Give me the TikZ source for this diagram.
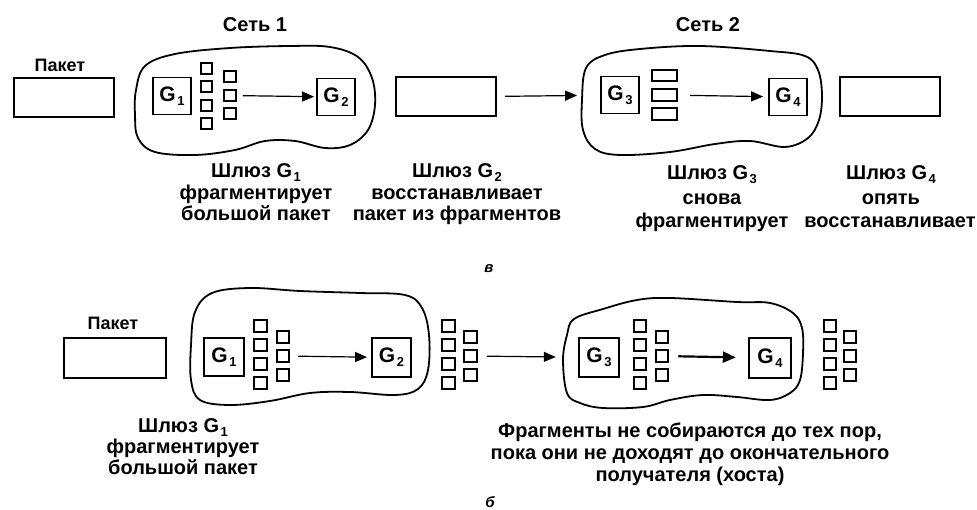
\documentclass[tikz,border=0pt]{standalone}
\usepackage{fontspec}
\setmainfont{Liberation Sans}
\usetikzlibrary{arrows.meta}
\newcommand{\Gsub}[1]{G\kern1.5pt\raisebox{-4pt}{\fontsize{13}{13}\selectfont #1}}
\tikzset{
  pkt/.style={draw, line width=2pt, minimum width=100pt, minimum height=39pt, inner sep=0pt},
  gw/.style={draw, line width=1.8pt, minimum width=38pt, minimum height=37pt, inner sep=0pt,
    font=\fontsize{21}{21}\selectfont\bfseries},
  gwb/.style={gw, line width=2.4pt},
  frag/.style={draw, line width=2pt, minimum width=11.5pt, minimum height=11pt, inner sep=0pt},
  fragb/.style={frag, minimum width=12.5pt, minimum height=12pt},
  wfrag/.style={draw, line width=2pt, minimum width=25pt, minimum height=11.5pt, inner sep=0pt},
  blob/.style={line width=1.8pt},
  lbl/.style={font=\fontsize{20}{22}\selectfont\bfseries, anchor=base, inner sep=0pt},
  arr/.style={-{Triangle[length=12pt,width=10pt]}, line width=1.2pt},
  arrb/.style={-{Triangle[length=13pt,width=11pt]}, line width=2.2pt},
  fig/.style={font=\fontsize{15}{15}\selectfont\bfseries\itshape, anchor=base, inner sep=0pt}
}
\begin{document}
\begin{tikzpicture}[x=1pt,y=-1pt]
\useasboundingbox (0,0) rectangle (977,510);
% ---------------- top (a) ----------------
\draw[blob] plot[smooth cycle, tension=0.6] coordinates {(136,90) (145,66) (175,54) (230,48) (290,46) (330,47) (358,57) (372,78) (375,105) (368,130) (350,145) (325,148) (295,141) (265,141) (235,150) (195,155) (155,152) (138,138) (135,115)};
\draw[blob] plot[smooth cycle, tension=0.6] coordinates {(582,100) (586,68) (605,55) (640,49) (700,46) (770,51) (805,56) (818,70) (822,95) (819,120) (808,138) (785,147) (750,141) (715,144) (670,152) (620,155) (595,149) (583,130)};

\node[lbl] (net1) at (255,32) {Сеть 1};
\node[lbl] (net2) at (708,32) {Сеть 2};
\node[lbl, font=\fontsize{18}{20}\selectfont\bfseries] (pkl1) at (60,72) {Пакет};

\node[pkt] (pa) at (64,98) {};
\node[gw] (ga1) at (172,96) {\Gsub{1}};
\node[frag] (fa1) at (206.5,68.5) {};
\node[frag] (fa2) at (206.5,87) {};
\node[frag] (fa3) at (206.5,105.5) {};
\node[frag] (fa4) at (206.5,124) {};
\node[frag] (fa5) at (230,77) {};
\node[frag] (fa6) at (230,95.5) {};
\node[frag] (fa7) at (230,114) {};
\node[gw] (ga2) at (336,97) {\Gsub{2}};
\node[pkt] (pb) at (446,97) {};
\node[gw] (ga3) at (620,95) {\Gsub{3}};
\node[wfrag] (fw1) at (664.5,75.5) {};
\node[wfrag] (fw2) at (664.5,95) {};
\node[wfrag] (fw3) at (664.5,114) {};
\node[gw] (ga4) at (788,97) {\Gsub{4}};
\node[pkt] (pc) at (890,97) {};

\draw[arr, shorten <=6pt, shorten >=2pt] (fa6) -- (ga2);
\draw[arr, shorten <=8pt, shorten >=23pt] (pb) -- (ga3);
\draw[arr, shorten <=12pt, shorten >=5pt] (fw2) -- (ga4);

\node[lbl] (t1a) at (256,178) {Шлюз \Gsub{1}};
\node[lbl] (t1b) at (256,200) {фрагментирует};
\node[lbl] (t1c) at (256,221) {большой пакет};
\node[lbl] (t2a) at (457,178) {Шлюз \Gsub{2}};
\node[lbl] (t2b) at (457,200) {восстанавливает};
\node[lbl] (t2c) at (457,221) {пакет из фрагментов};
\node[lbl] (t3a) at (712,180) {Шлюз \Gsub{3}};
\node[lbl] (t3b) at (712,205) {снова};
\node[lbl] (t3c) at (712,228) {фрагментирует};
\node[lbl] (t4a) at (891,180) {Шлюз \Gsub{4}};
\node[lbl] (t4b) at (891,205) {опять};
\node[lbl] (t4c) at (890,228) {восстанавливает};

\node[fig] (figa) at (489,273) {в};

% ---------------- bottom (b) ----------------
\draw[blob] plot[smooth cycle, tension=0.6] coordinates {(191,345) (195,312) (212,293) (250,288) (300,291) (360,293) (405,295) (422,308) (429,335) (428,370) (418,389) (395,395) (350,392) (310,393) (270,401) (230,405) (200,400) (191,380)};
\draw[blob] plot[smooth cycle, tension=0.6] coordinates {(563,360) (567,335) (574,319) (603,309) (637,300) (670,298) (737,302) (770,303) (793,313) (802,328) (803,353) (800,380) (790,393) (770,400) (737,397) (703,395) (670,400) (643,407) (603,408) (580,403) (567,393)};

\node[lbl, font=\fontsize{18}{20}\selectfont\bfseries] (pkl2) at (113,330) {Пакет};
\node[pkt, minimum width=102pt, minimum height=40pt] (pd) at (115,358) {};
\node[gw, minimum width=40pt, minimum height=38pt] (gb1) at (224,357) {\Gsub{1}};
\node[gw, minimum width=39pt, minimum height=39pt] (gb2) at (391.5,357.5) {\Gsub{2}};
\node[gwb, minimum width=40pt, minimum height=39pt] (gb3) at (599,357.5) {\Gsub{3}};
\node[gwb, minimum width=42pt, minimum height=40pt] (gb4) at (770,358) {\Gsub{4}};

\foreach \n/\x in {A/260.5,B/448.5,C/640,D/830}{
  \node[fragb] (\n1) at (\x,326) {};
  \node[fragb] (\n2) at (\x,345) {};
  \node[fragb] (\n3) at (\x,364) {};
  \node[fragb] (\n4) at (\x,383) {};
}
\foreach \n/\x in {A/283,B/470.5,C/662,D/850}{
  \node[fragb] (\n5) at (\x,337) {};
  \node[fragb] (\n6) at (\x,356) {};
  \node[fragb] (\n7) at (\x,375) {};
}

\draw[arr, shorten <=8pt, shorten >=4pt] (A6) -- (gb2);
\draw[arr, shorten <=9pt, shorten >=22pt] (B6) -- (gb3);
\draw[arrb, shorten <=9pt, shorten >=12pt] (C6) -- (gb4);

\node[lbl] (s1a) at (183,432) {Шлюз \Gsub{1}};
\node[lbl] (s1b) at (183,453) {фрагментирует};
\node[lbl] (s1c) at (183,474) {большой пакет};
\node[lbl] (s2a) at (690,437) {Фрагменты не собираются до тех пор,};
\node[lbl] (s2b) at (690,459) {пока они не доходят до окончательного};
\node[lbl] (s2c) at (690,481) {получателя (хоста)};

\node[fig] (figb) at (490,507) {б};
\end{tikzpicture}
\end{document}
